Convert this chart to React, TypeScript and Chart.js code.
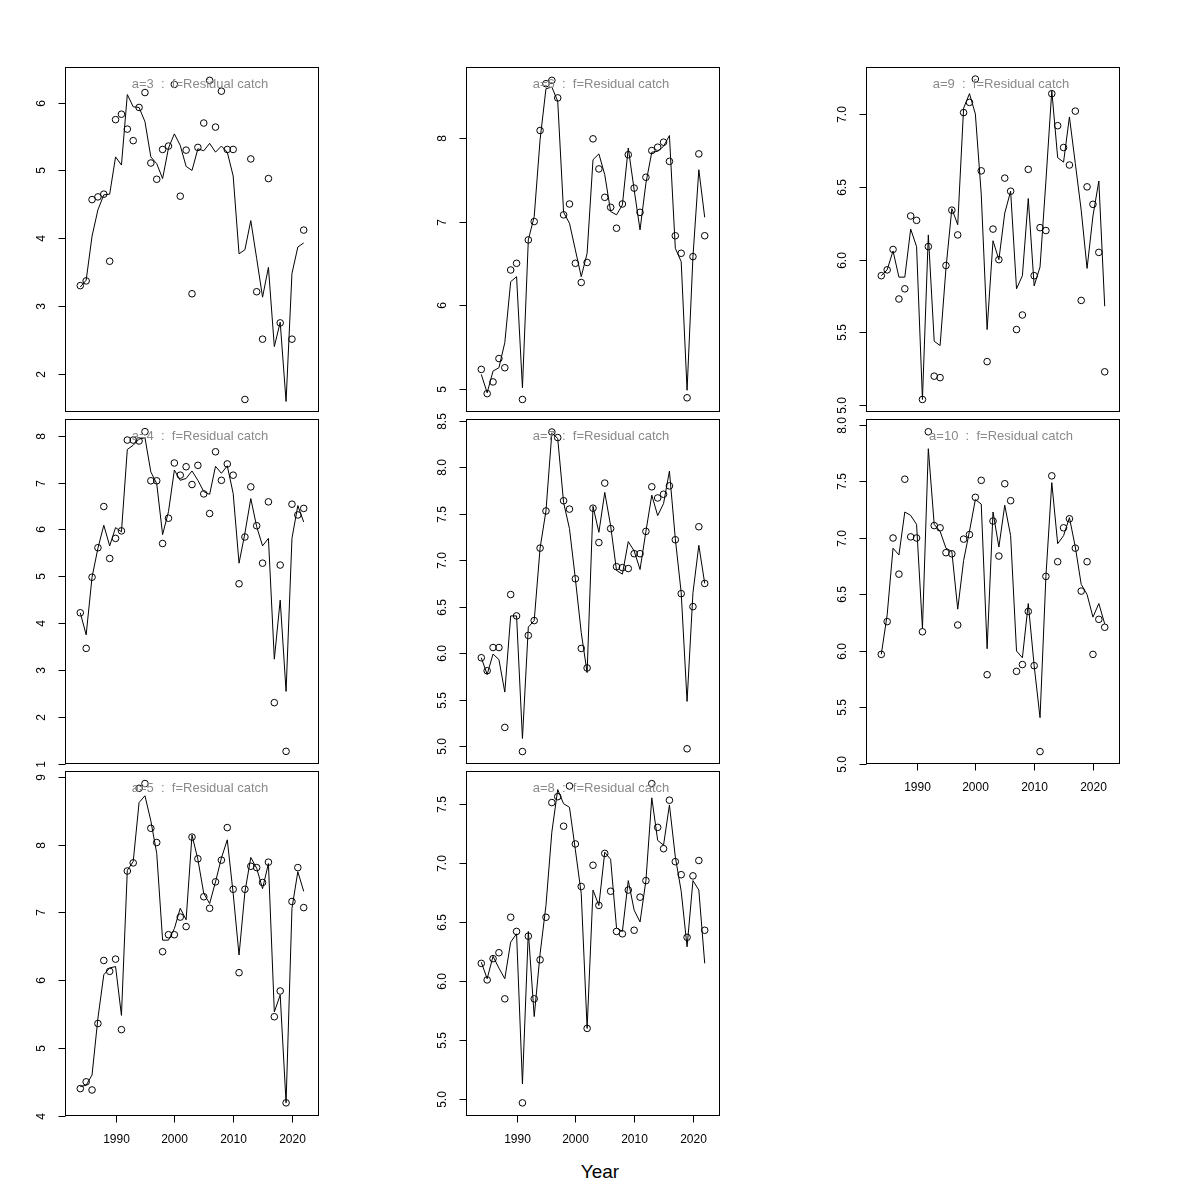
import React, { useEffect, useRef } from 'react';
import { Chart, registerables } from 'chart.js';

Chart.register(...registerables);

// ---------- data ----------
const years = [
  1984, 1985, 1986, 1987, 1988, 1989, 1990, 1991, 1992, 1993,
  1994, 1995, 1996, 1997, 1998, 1999, 2000, 2001, 2002, 2003,
  2004, 2005, 2006, 2007, 2008, 2009, 2010, 2011, 2012, 2013,
  2014, 2015, 2016, 2017, 2018, 2019, 2020, 2021, 2022,
];

const obsA3 = [3.30, 3.37, 4.57, 4.61, 4.65, 3.66, 5.75, 5.83, 5.61, 5.44, 5.93, 6.15, 5.11, 4.87, 5.31, 5.36, 6.27, 4.62, 5.30, 3.18, 5.34, 5.70, 6.33, 5.64, 6.17, 5.31, 5.31, null, 1.62, 5.17, 3.21, 2.51, 4.88, null, 2.75, null, 2.51, null, 4.12];
const fitA3 = [3.28, 3.38, 4.03, 4.42, 4.64, 4.65, 5.20, 5.08, 6.12, 5.94, 5.93, 5.72, 5.20, 5.10, 4.88, 5.33, 5.54, 5.37, 5.06, 5.00, 5.32, 5.29, 5.40, 5.27, 5.36, 5.27, 4.92, 3.77, 3.83, 4.26, 3.70, 3.13, 3.57, 2.40, 2.76, 1.59, 3.48, 3.87, 3.93];

const obsA4 = [4.22, 3.46, 4.98, 5.61, 6.49, 5.38, 5.81, 5.97, 7.91, 7.91, 7.89, 8.09, 7.04, 7.04, 5.70, 6.24, 7.42, 7.16, 7.34, 6.96, 7.37, 6.76, 6.34, 7.66, 7.05, 7.40, 7.16, 4.84, 5.84, 6.91, 6.08, 5.28, 6.59, 2.30, 5.24, 1.26, 6.54, 6.31, 6.45];
const fitA4 = [4.22, 3.75, 4.98, 5.60, 6.09, 5.65, 6.04, 5.95, 7.71, 7.80, 7.93, 7.96, 7.23, 6.98, 5.89, 6.38, 7.27, 7.05, 7.09, 7.25, 7.05, 6.81, 6.75, 7.35, 7.20, 7.36, 6.77, 5.28, 5.92, 6.66, 6.06, 5.65, 5.81, 3.23, 4.49, 2.54, 5.81, 6.51, 6.16];

const obsA5 = [4.40, 4.50, 4.38, 5.36, 6.29, 6.13, 6.31, 5.27, 7.61, 7.73, 8.83, 8.90, 8.24, 8.03, 6.42, 6.67, 6.67, 6.93, 6.79, 8.11, 7.79, 7.23, 7.06, 7.45, 7.77, 8.25, 7.34, 6.11, 7.34, 7.68, 7.66, 7.44, 7.74, 5.46, 5.84, 4.19, 7.16, 7.66, 7.07];
const fitA5 = [4.43, 4.45, 4.60, 5.44, 6.08, 6.18, 6.20, 5.48, 7.62, 7.75, 8.62, 8.72, 8.35, 7.87, 6.59, 6.59, 6.76, 7.06, 6.89, 8.14, 7.78, 7.28, 7.13, 7.45, 7.80, 8.07, 7.28, 6.37, 7.30, 7.81, 7.65, 7.35, 7.72, 5.53, 5.78, 4.19, 7.06, 7.60, 7.31];

const obsA6 = [5.23, 4.94, 5.08, 5.36, 5.25, 6.42, 6.50, 4.87, 6.78, 7.00, 8.09, 8.65, 8.69, 8.48, 7.08, 7.21, 6.50, 6.27, 6.51, 7.99, 7.63, 7.29, 7.17, 6.92, 7.21, 7.80, 7.40, 7.11, 7.53, 7.85, 7.89, 7.95, 7.72, 6.83, 6.62, 4.89, 6.58, 7.81, 6.83];
const fitA6 = [5.17, 4.95, 5.21, 5.25, 5.55, 6.28, 6.34, 5.01, 6.78, 7.06, 7.98, 8.59, 8.61, 8.44, 7.11, 6.98, 6.66, 6.34, 6.62, 7.74, 7.81, 7.56, 7.12, 7.08, 7.20, 7.88, 7.38, 6.90, 7.46, 7.83, 7.84, 7.90, 8.03, 6.68, 6.52, 4.98, 6.58, 7.62, 7.05];

const obsA7 = [5.95, 5.81, 6.06, 6.06, 5.20, 6.63, 6.40, 4.94, 6.19, 6.35, 7.13, 7.53, 8.38, 8.32, 7.64, 7.55, 6.80, 6.05, 5.84, 7.56, 7.19, 7.83, 7.34, 6.93, 6.92, 6.91, 7.07, 7.07, 7.31, 7.79, 7.67, 7.71, 7.80, 7.22, 6.64, 4.97, 6.50, 7.36, 6.75];
const fitA7 = [5.95, 5.77, 5.99, 5.93, 5.58, 6.40, 6.40, 5.08, 6.28, 6.35, 7.13, 7.53, 8.37, 8.31, 7.62, 7.34, 6.80, 6.22, 5.79, 7.58, 7.30, 7.73, 7.37, 6.89, 6.85, 7.20, 7.10, 6.90, 7.31, 7.70, 7.48, 7.61, 7.96, 7.23, 6.65, 5.48, 6.65, 7.16, 6.75];

const obsA8 = [6.15, 6.01, 6.19, 6.24, 5.85, 6.54, 6.42, 4.97, 6.38, 5.85, 6.18, 6.54, 7.51, 7.56, 7.31, 7.65, 7.16, 6.80, 5.60, 6.98, 6.64, 7.08, 6.76, 6.42, 6.40, 6.77, 6.43, 6.71, 6.85, 7.67, 7.30, 7.12, 7.53, 7.01, 6.90, 6.37, 6.89, 7.02, 6.43];
const fitA8 = [6.16, 6.02, 6.21, 6.11, 6.02, 6.33, 6.40, 5.13, 6.42, 5.70, 6.23, 6.64, 7.26, 7.62, 7.50, 7.47, 7.11, 6.74, 5.60, 6.77, 6.64, 7.09, 7.03, 6.45, 6.42, 6.85, 6.60, 6.50, 6.85, 7.55, 7.19, 7.15, 7.49, 7.05, 6.76, 6.29, 6.85, 6.77, 6.15];

const obsA9 = [5.89, 5.93, 6.07, 5.73, 5.80, 6.30, 6.27, 5.04, 6.09, 5.20, 5.19, 5.96, 6.34, 6.17, 7.01, 7.08, 7.24, 6.61, 5.30, 6.21, 6.00, 6.56, 6.47, 5.52, 5.62, 6.62, 5.89, 6.22, 6.20, 7.14, 6.92, 6.77, 6.65, 7.02, 5.72, 6.50, 6.38, 6.05, 5.23];
const fitA9 = [5.89, 5.93, 6.06, 5.88, 5.88, 6.21, 6.09, 5.04, 6.17, 5.44, 5.41, 5.94, 6.35, 6.24, 7.04, 7.14, 7.00, 6.45, 5.52, 6.13, 6.00, 6.32, 6.47, 5.80, 5.89, 6.42, 5.82, 5.95, 6.54, 7.16, 6.70, 6.67, 6.98, 6.66, 6.34, 5.94, 6.30, 6.54, 5.68];

const obsA10 = [5.97, 6.26, 7.00, 6.68, 7.52, 7.01, 7.00, 6.17, 7.94, 7.11, 7.09, 6.87, 6.86, 6.23, 6.99, 7.03, 7.36, 7.51, 5.79, 7.15, 6.84, 7.48, 7.33, 5.82, 5.88, 6.35, 5.87, 5.11, 6.66, 7.55, 6.79, 7.09, 7.17, 6.91, 6.53, 6.79, 5.97, 6.28, 6.21];
const fitA10 = [5.97, 6.32, 6.91, 6.85, 7.23, 7.20, 7.12, 6.20, 7.79, 7.12, 7.06, 6.91, 6.88, 6.37, 6.80, 7.06, 7.34, 7.30, 6.02, 7.23, 6.92, 7.29, 7.02, 6.00, 5.94, 6.42, 5.87, 5.41, 6.66, 7.49, 6.95, 7.02, 7.18, 6.92, 6.59, 6.50, 6.30, 6.42, 6.24];

const ticksA3 = [2, 3, 4, 5, 6];
const ticksA4 = [1, 2, 3, 4, 5, 6, 7, 8];
const ticksA5 = [4, 5, 6, 7, 8, 9];
const ticksA6 = [5, 6, 7, 8];
const ticksA7 = [5.0, 5.5, 6.0, 6.5, 7.0, 7.5, 8.0, 8.5];
const ticksA8 = [5.0, 5.5, 6.0, 6.5, 7.0, 7.5];
const ticksA9 = [5.0, 5.5, 6.0, 6.5, 7.0];
const ticksA10 = [5.0, 5.5, 6.0, 6.5, 7.0, 7.5, 8.0];
const xTicks = [1990, 2000, 2010, 2020];

const titles = ['a=3', 'a=4', 'a=5', 'a=6', 'a=7', 'a=8', 'a=9', 'a=10'];
const subtitle = 'f=Residual catch';

// ---------- layout ----------
const BOX_W = 254;
const BOX_H = 345;
const PAD_L = 60;
const PAD_T = 12;
const PAD_R = 10;
const PAD_B = 44;
const X_MIN = 1981.4;
const X_MAX = 2024.6;

type PanelDef = {
  title: string;
  obs: (number | null)[];
  fit: number[];
  ticks: number[];
  dec: number;
  yMin: number;
  yMax: number;
  left: number;
  top: number;
  xAxis: boolean;
};

const panels: PanelDef[] = [
  { title: titles[0], obs: obsA3, fit: fitA3, ticks: ticksA3, dec: 0, yMin: 1.435, yMax: 6.527, left: 65, top: 67, xAxis: false },
  { title: titles[1], obs: obsA4, fit: fitA4, ticks: ticksA4, dec: 0, yMin: 0.99, yMax: 8.36, left: 65, top: 419, xAxis: false },
  { title: titles[2], obs: obsA5, fit: fitA5, ticks: ticksA5, dec: 0, yMin: 3.996, yMax: 9.085, left: 65, top: 771, xAxis: true },
  { title: titles[3], obs: obsA6, fit: fitA6, ticks: ticksA6, dec: 0, yMin: 4.72, yMax: 8.85, left: 466, top: 67, xAxis: false },
  { title: titles[4], obs: obsA7, fit: fitA7, ticks: ticksA7, dec: 1, yMin: 4.806, yMax: 8.52, left: 466, top: 419, xAxis: false },
  { title: titles[5], obs: obsA8, fit: fitA8, ticks: ticksA8, dec: 1, yMin: 4.859, yMax: 7.777, left: 466, top: 771, xAxis: true },
  { title: titles[6], obs: obsA9, fit: fitA9, ticks: ticksA9, dec: 1, yMin: 4.954, yMax: 7.323, left: 866, top: 67, xAxis: false },
  { title: titles[7], obs: obsA10, fit: fitA10, ticks: ticksA10, dec: 1, yMin: 5.0, yMax: 8.053, left: 866, top: 419, xAxis: true },
];

const FONT = '"Liberation Sans", Arial, Helvetica, sans-serif';

function Panel({ p }: { p: PanelDef }) {
  const ref = useRef<HTMLCanvasElement | null>(null);
  const cw = BOX_W + PAD_L + PAD_R;
  const ch = BOX_H + PAD_T + PAD_B;

  useEffect(() => {
    if (!ref.current) return;
    const fitData = years.map((yr, i) => ({ x: yr, y: p.fit[i] }));
    const obsData = years
      .map((yr, i) => ({ x: yr, y: p.obs[i] }))
      .filter((d) => d.y !== null);

    const frame = {
      id: 'frame' + p.title,
      afterDraw(chart: any) {
        const { ctx, chartArea: a, scales } = chart;
        ctx.save();
        ctx.strokeStyle = '#000';
        ctx.lineWidth = 1;
        const l = Math.round(a.left) + 0.5;
        const t = Math.round(a.top) + 0.5;
        const r = Math.round(a.right) - 0.5;
        const b = Math.round(a.bottom) - 0.5;
        ctx.strokeRect(l, t, r - l, b - t);

        ctx.fillStyle = '#000';
        ctx.font = '12px ' + FONT;
        for (const v of p.ticks) {
          const y = Math.round(scales.y.getPixelForValue(v)) + 0.5;
          ctx.beginPath();
          ctx.moveTo(l - 7, y);
          ctx.lineTo(l, y);
          ctx.stroke();
          ctx.save();
          ctx.translate(a.left - 23, y);
          ctx.rotate(-Math.PI / 2);
          ctx.textAlign = 'center';
          ctx.textBaseline = 'middle';
          ctx.fillText(v.toFixed(p.dec), 0, 0);
          ctx.restore();
        }
        if (p.xAxis) {
          for (const v of xTicks) {
            const x = Math.round(scales.x.getPixelForValue(v)) + 0.5;
            ctx.beginPath();
            ctx.moveTo(x, b);
            ctx.lineTo(x, b + 7);
            ctx.stroke();
            ctx.textAlign = 'center';
            ctx.textBaseline = 'middle';
            ctx.fillText(String(v), x, a.bottom + 24);
          }
        }
        ctx.fillStyle = '#8a8a8a';
        ctx.font = '13px ' + FONT;
        ctx.textAlign = 'center';
        ctx.textBaseline = 'middle';
        ctx.fillText(p.title + '  :  ' + subtitle, a.left + 135, a.top + 17);
        ctx.restore();
      },
    };

    const chart = new Chart(ref.current, {
      type: 'line',
      data: {
        datasets: [
          {
            data: fitData,
            borderColor: '#000',
            borderWidth: 1,
            pointRadius: 0,
            tension: 0,
            fill: false,
          },
          {
            data: obsData as any,
            showLine: false,
            borderColor: '#000',
            backgroundColor: 'rgba(0,0,0,0)',
            pointRadius: 3.3,
            pointBorderWidth: 1,
            pointBorderColor: '#000',
            pointBackgroundColor: 'rgba(0,0,0,0)',
          },
        ],
      },
      options: {
        responsive: false,
        animation: false,
        devicePixelRatio: 1,
        layout: { padding: { left: PAD_L, top: PAD_T, right: PAD_R, bottom: PAD_B } },
        plugins: { legend: { display: false }, tooltip: { enabled: false } },
        scales: {
          x: { type: 'linear', min: X_MIN, max: X_MAX, display: false },
          y: { type: 'linear', min: p.yMin, max: p.yMax, display: false },
        },
      },
      plugins: [frame],
    });
    return () => chart.destroy();
  }, [p]);

  return (
    <canvas
      ref={ref}
      width={cw}
      height={ch}
      style={{ position: 'absolute', left: p.left - PAD_L, top: p.top - PAD_T, width: cw, height: ch }}
    />
  );
}

export default function App() {
  return (
    <div style={{ position: 'absolute', left: 0, top: 0, width: 1200, height: 1200, background: '#fff', overflow: 'hidden' }}>
      {panels.map((p) => (
        <Panel key={p.title} p={p} />
      ))}
      <div
        style={{
          position: 'absolute',
          left: 0,
          width: 1200,
          top: 1160,
          height: 24,
          lineHeight: '24px',
          textAlign: 'center',
          fontFamily: FONT,
          fontSize: 19,
          color: '#000',
        }}
      >
        Year
      </div>
    </div>
  );
}
